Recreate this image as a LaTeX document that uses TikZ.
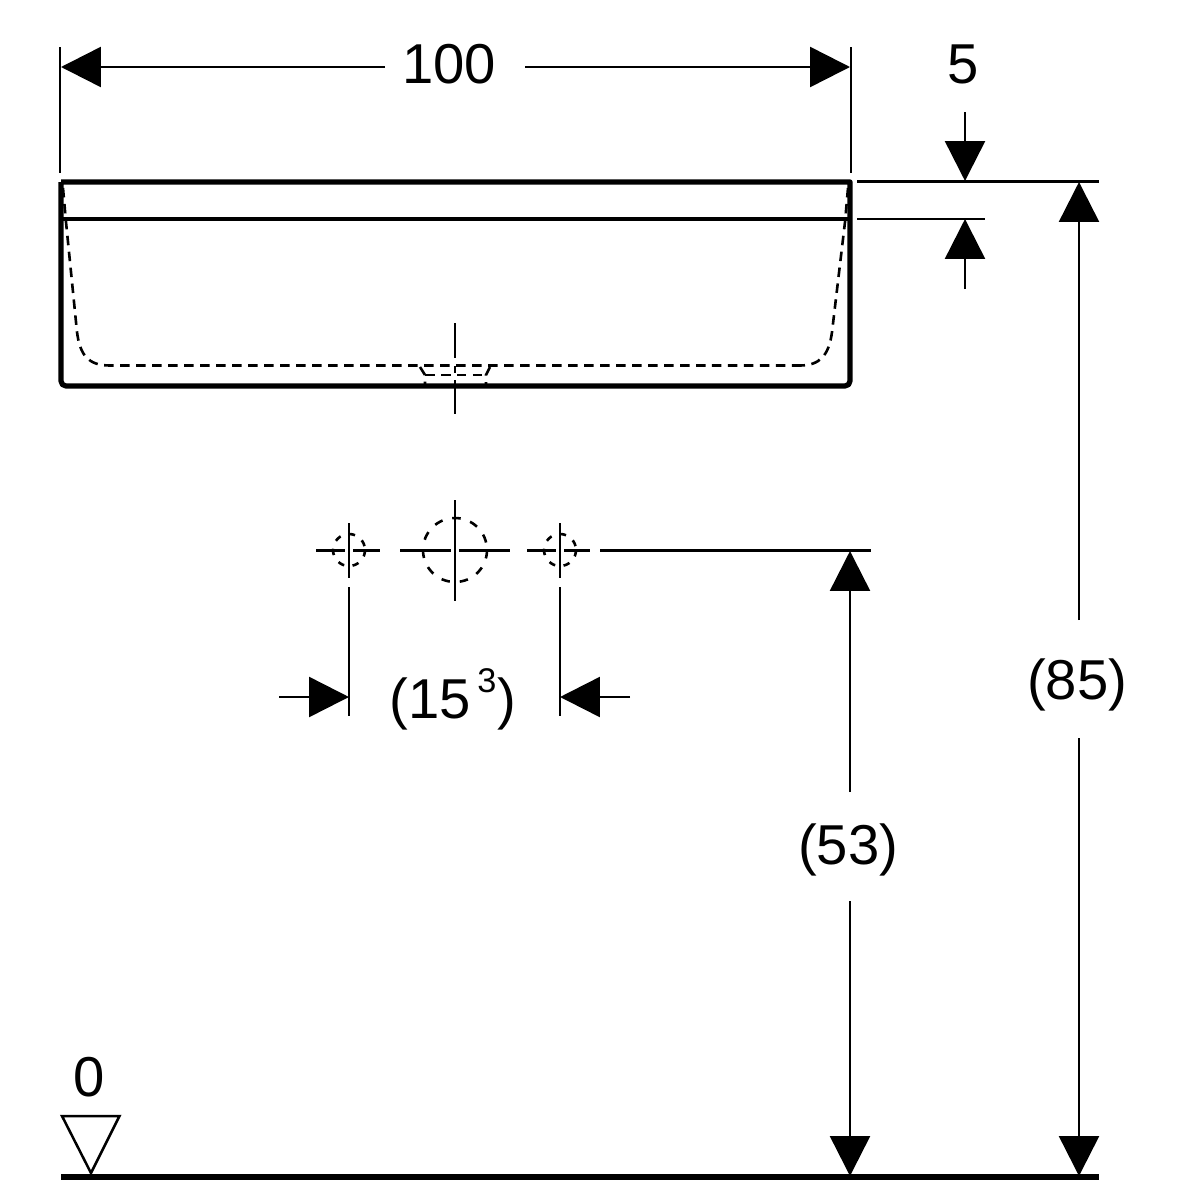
\documentclass[tikz,border=0pt]{standalone}
\usepackage{fontspec}
\setmainfont{Liberation Sans}
\usetikzlibrary{arrows.meta}
\tikzset{
  thinl/.style={line width=0.05cm},
  body line/.style={line width=0.105cm},
  dashl/.style={line width=0.052cm,dash pattern=on 0.19cm off 0.13cm},
  holedash/.style={line width=0.052cm,dash pattern=on 0.17cm off 0.2cm},
  smalldash/.style={line width=0.052cm,dash pattern=on 0.13cm off 0.17cm},
  dimarrow/.style={line width=0.05cm,-{Triangle[length=0.8cm,width=0.8cm]}},
  lbl/.style={inner sep=0pt,anchor=base,font=\fontsize{32pt}{32pt}\selectfont},
  suplbl/.style={inner sep=0pt,anchor=base,font=\fontsize{19.5pt}{19.5pt}\selectfont}
}
\begin{document}
\begin{tikzpicture}[x=0.02cm,y=-0.02cm]
\useasboundingbox (0,0) rectangle (1200,1200);
% body
\draw[body line,line join=round] (61,182) -- (850,182) [rounded corners=0.1cm] -- (850,386) -- (61,386) -- (61,182);
\draw[line width=0.085cm] (61,219) -- (850,219);
% basin (dashed)
\draw[dashl] (63,188) -- (66,222) -- (77,332) .. controls (80,355) and (88,365.5) .. (110,365.5) -- (800,365.5);
\draw[dashl] (848,188) -- (845,222) -- (832,332) .. controls (829,355) and (820,365.5) .. (800,365.5);
\draw[dashl] (420,367) -- (425,375) -- (425,386);
\draw[dashl] (490,367) -- (486,375) -- (486,386);
\draw[dashl] (425,375) -- (486,375);
% drain centre lines
\draw[thinl] (455,323) -- (455,358);
\draw[thinl] (455,366) -- (455,373);
\draw[thinl] (455,380) -- (455,414);
% tap holes
\draw[holedash] (455,550) circle[radius=32];
\draw[smalldash] (349,550) circle[radius=16];
\draw[smalldash] (560,550) circle[radius=16];
\draw[thinl] (400,550.5) -- (451,550.5);
\draw[thinl] (459,550.5) -- (510,550.5);
\draw[thinl] (455,500) -- (455,601);
\draw[thinl] (316,550.5) -- (345,550.5);
\draw[thinl] (353,550.5) -- (380,550.5);
\draw[thinl] (349,523) -- (349,578);
\draw[thinl] (349,587) -- (349,716);
\draw[thinl] (527,550.5) -- (556,550.5);
\draw[thinl] (564,550.5) -- (590,550.5);
\draw[thinl] (560,523) -- (560,578);
\draw[thinl] (560,587) -- (560,716);
% extension lines
\draw[thinl] (60,47) -- (60,173);
\draw[thinl] (851,47) -- (851,173);
\draw[thinl] (857,181.5) -- (1099,181.5);
\draw[thinl] (857,219) -- (985,219);
\draw[thinl] (600,550.5) -- (871,550.5);
% dimensions
\draw[dimarrow] (385,67) -- (61,67);
\draw[dimarrow] (525,67) -- (850,67);
\draw[dimarrow] (965,112) -- (965,181);
\draw[dimarrow] (965,289) -- (965,219);
\draw[dimarrow] (1079,620) -- (1079,182);
\draw[dimarrow] (1079,738) -- (1079,1176);
\draw[dimarrow] (850,792) -- (850,551);
\draw[dimarrow] (850,901) -- (850,1176);
\draw[dimarrow] (279,697) -- (349,697);
\draw[dimarrow] (630,697) -- (560,697);
% labels
\node[lbl] (t100) at (449,83) {100};
\node[lbl] (t5) at (963,83) {5};
\node[lbl] (t15) at (430.5,718) {(15};
\node[suplbl] (t3) at (487,692) {3};
\node[lbl] (t15b) at (507,718) {)};
\node[lbl] (t53) at (848,864) {(53)};
\node[lbl] (t85) at (1077,699.5) {(85)};
\node[lbl] (t0) at (89,1096) {0};
% datum
\draw[thinl,line join=miter] (62,1116) -- (119.5,1116) -- (91,1173) -- cycle;
\draw[line width=0.12cm] (61,1177) -- (1099,1177);
\end{tikzpicture}
\end{document}
